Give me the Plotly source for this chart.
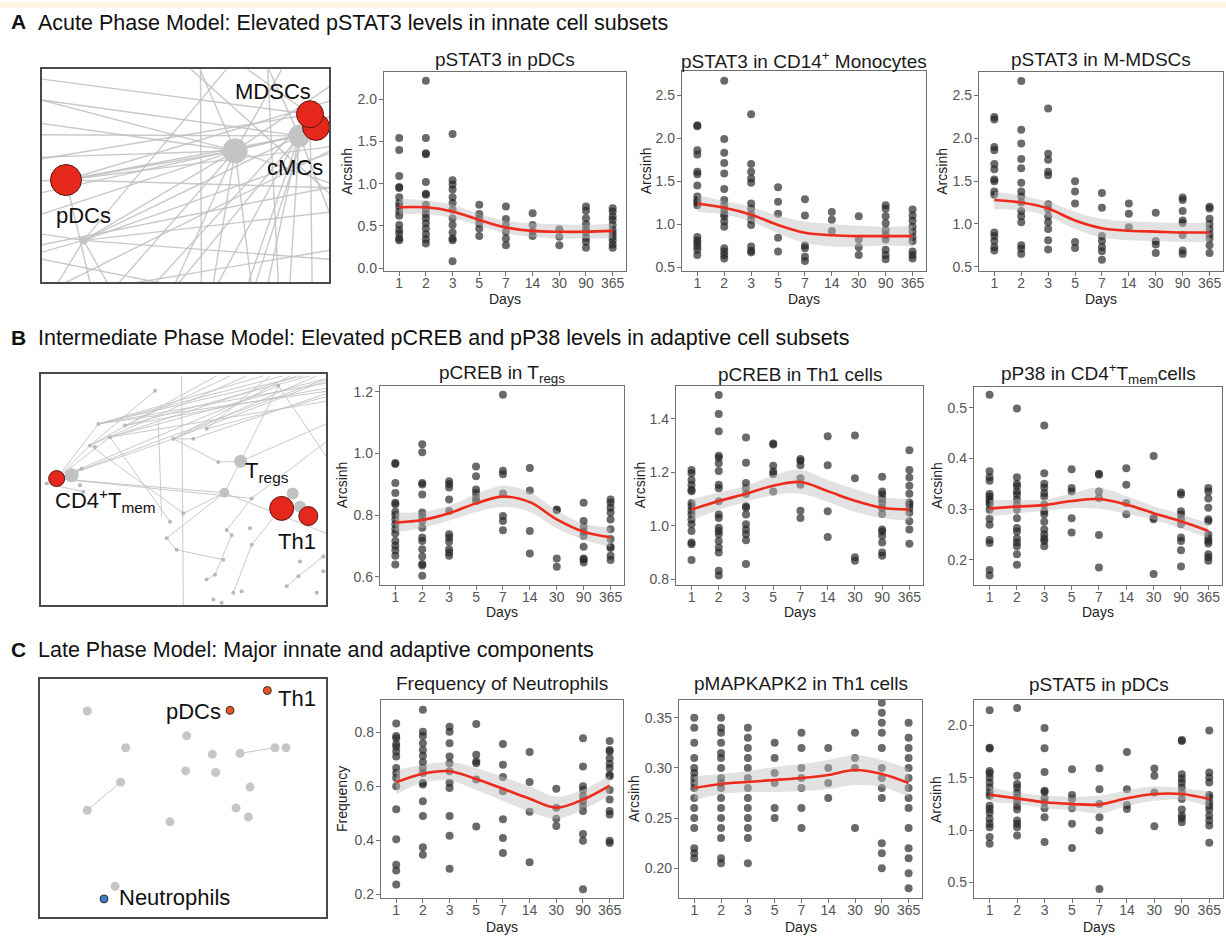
import plotly.graph_objects as go

W, H = 1226, 939
DAYS = ["1", "2", "3", "5", "7", "14", "30", "90", "365"]

# ---------------- Row A data ----------------
A1_PTS = [
    [1.54, 1.40, 1.09, 0.96, 0.95, 0.84, 0.77, 0.73, 0.67, 0.62, 0.51, 0.45, 0.41, 0.35, 0.33],
    [2.22, 1.54, 1.36, 1.35, 1.02, 0.88, 0.87, 0.75, 0.69, 0.64, 0.59, 0.53, 0.47, 0.40, 0.34, 0.29],
    [1.59, 1.04, 0.99, 0.93, 0.84, 0.77, 0.69, 0.59, 0.51, 0.42, 0.35, 0.33, 0.08],
    [0.75, 0.64, 0.59, 0.53, 0.47, 0.38],
    [0.73, 0.58, 0.51, 0.43, 0.35, 0.27],
    [0.65, 0.51, 0.43, 0.38],
    [0.46, 0.37, 0.27],
    [0.73, 0.68, 0.59, 0.52, 0.46, 0.42, 0.36, 0.31, 0.24],
    [0.71, 0.67, 0.61, 0.57, 0.51, 0.45, 0.41, 0.37, 0.33, 0.28, 0.24],
]
A1_FIT = [0.72, 0.72, 0.67, 0.57, 0.48, 0.44, 0.43, 0.43, 0.44]
A1_HI = [0.82, 0.80, 0.75, 0.64, 0.56, 0.53, 0.52, 0.51, 0.53]
A1_LO = [0.63, 0.64, 0.59, 0.50, 0.41, 0.37, 0.35, 0.35, 0.35]

A2_PTS = [
    [2.15, 2.14, 1.86, 1.81, 1.61, 1.58, 1.45, 1.32, 1.28, 1.25, 1.22, 0.85, 0.81, 0.78, 0.74, 0.70, 0.64],
    [2.67, 1.99, 1.83, 1.71, 1.59, 1.41, 1.28, 1.22, 1.17, 1.12, 1.09, 1.03, 0.97, 0.72, 0.68, 0.64, 0.60],
    [2.28, 1.70, 1.61, 1.53, 1.48, 1.24, 1.18, 1.11, 1.05, 0.99, 0.74, 0.69, 0.67],
    [1.43, 1.26, 1.12, 0.84, 0.68],
    [1.29, 1.10, 0.75, 0.72, 0.62, 0.57],
    [1.14, 1.05, 0.92],
    [1.09, 0.82, 0.73, 0.64],
    [1.22, 1.18, 1.09, 1.01, 0.93, 0.87, 0.82, 0.70, 0.64, 0.59],
    [1.17, 1.10, 1.04, 0.97, 0.91, 0.85, 0.80, 0.68, 0.64, 0.60],
]
A2_FIT = [1.24, 1.19, 1.11, 0.99, 0.90, 0.87, 0.86, 0.86, 0.86]
A2_HI = [1.34, 1.27, 1.20, 1.10, 1.03, 1.00, 0.98, 0.97, 0.98]
A2_LO = [1.14, 1.11, 1.03, 0.89, 0.78, 0.74, 0.74, 0.75, 0.74]

A3_PTS = [
    [2.25, 2.22, 1.90, 1.86, 1.70, 1.64, 1.52, 1.50, 1.38, 1.34, 0.90, 0.86, 0.80, 0.73, 0.69],
    [2.67, 2.10, 1.94, 1.76, 1.65, 1.48, 1.38, 1.32, 1.25, 1.15, 1.09, 1.02, 0.75, 0.71, 0.65],
    [2.35, 1.82, 1.75, 1.61, 1.57, 1.23, 1.17, 1.09, 1.02, 0.94, 0.81, 0.70],
    [1.50, 1.38, 1.24, 0.79, 0.72],
    [1.36, 1.19, 0.86, 0.80, 0.73, 0.68, 0.58],
    [1.24, 1.12, 0.96],
    [1.13, 0.80, 0.76, 0.66],
    [1.31, 1.28, 1.15, 1.04, 1.01, 0.87, 0.69, 0.65],
    [1.20, 1.18, 1.06, 1.00, 0.94, 0.88, 0.83, 0.75, 0.66],
]
A3_FIT = [1.28, 1.25, 1.18, 1.04, 0.95, 0.92, 0.91, 0.90, 0.90]
A3_HI = [1.38, 1.33, 1.26, 1.14, 1.06, 1.03, 1.02, 1.01, 1.02]
A3_LO = [1.17, 1.16, 1.09, 0.94, 0.84, 0.81, 0.80, 0.79, 0.79]

# ---------------- Row B data ----------------
B1_PTS = [
    [0.969, 0.966, 0.904, 0.872, 0.840, 0.835, 0.811, 0.800, 0.786, 0.770, 0.754, 0.740, 0.716, 0.700, 0.686, 0.668, 0.639],
    [1.030, 1.004, 0.904, 0.899, 0.867, 0.808, 0.797, 0.781, 0.759, 0.727, 0.716, 0.689, 0.665, 0.641, 0.636, 0.603],
    [0.910, 0.901, 0.890, 0.851, 0.813, 0.738, 0.727, 0.713, 0.689, 0.678, 0.668],
    [0.958, 0.926, 0.883, 0.872, 0.856, 0.845],
    [1.191, 0.944, 0.933, 0.870, 0.797, 0.781, 0.751],
    [0.953, 0.880, 0.748, 0.675],
    [0.818, 0.816, 0.659, 0.632],
    [0.840, 0.781, 0.761, 0.746, 0.732, 0.697, 0.659, 0.656, 0.646],
    [0.851, 0.840, 0.824, 0.808, 0.786, 0.754, 0.722, 0.697, 0.693, 0.668, 0.654],
]
B1_FIT = [0.776, 0.784, 0.806, 0.838, 0.860, 0.842, 0.786, 0.746, 0.728]
B1_HI = [0.808, 0.810, 0.830, 0.868, 0.895, 0.875, 0.815, 0.772, 0.760]
B1_LO = [0.745, 0.758, 0.782, 0.810, 0.826, 0.810, 0.757, 0.720, 0.696]

B2_PTS = [
    [1.209, 1.197, 1.172, 1.154, 1.135, 1.130, 1.086, 1.074, 1.057, 1.043, 1.024, 1.006, 0.981, 0.938, 0.932, 0.873],
    [1.489, 1.418, 1.354, 1.262, 1.255, 1.234, 1.205, 1.154, 1.141, 1.092, 1.043, 1.030, 0.993, 0.981, 0.969, 0.944, 0.920, 0.901, 0.833, 0.815],
    [1.330, 1.236, 1.160, 1.141, 1.119, 1.074, 1.068, 1.043, 1.006, 0.987, 0.969, 0.947, 0.858],
    [1.308, 1.304, 1.225, 1.203, 1.194, 1.129],
    [1.250, 1.243, 1.227, 1.178, 1.154, 1.057, 1.030],
    [1.335, 1.227, 1.055, 0.959],
    [1.338, 1.178, 0.883, 0.870],
    [1.184, 1.129, 1.117, 1.102, 1.086, 1.067, 1.045, 0.987, 0.979, 0.963, 0.938, 0.901, 0.889],
    [1.283, 1.209, 1.181, 1.150, 1.120, 1.088, 1.080, 1.067, 1.049, 1.018, 0.987, 0.934],
]
B2_FIT = [1.061, 1.093, 1.120, 1.150, 1.164, 1.130, 1.094, 1.068, 1.061]
B2_HI = [1.100, 1.125, 1.150, 1.188, 1.210, 1.172, 1.138, 1.108, 1.100]
B2_LO = [1.022, 1.060, 1.090, 1.115, 1.120, 1.090, 1.052, 1.030, 1.020]

B3_PTS = [
    [0.526, 0.375, 0.363, 0.356, 0.330, 0.325, 0.319, 0.314, 0.309, 0.299, 0.281, 0.269, 0.239, 0.233, 0.180, 0.169],
    [0.499, 0.363, 0.350, 0.345, 0.335, 0.329, 0.319, 0.309, 0.299, 0.282, 0.263, 0.256, 0.242, 0.234, 0.227, 0.211, 0.190],
    [0.465, 0.371, 0.350, 0.343, 0.332, 0.325, 0.309, 0.296, 0.290, 0.275, 0.260, 0.250, 0.242, 0.237, 0.227],
    [0.379, 0.342, 0.335, 0.282, 0.254],
    [0.370, 0.368, 0.335, 0.322, 0.249, 0.185],
    [0.381, 0.348, 0.312, 0.290],
    [0.405, 0.283, 0.280, 0.172],
    [0.333, 0.329, 0.296, 0.290, 0.281, 0.270, 0.244, 0.237, 0.219, 0.187],
    [0.342, 0.335, 0.321, 0.303, 0.280, 0.276, 0.250, 0.242, 0.237, 0.232, 0.211, 0.205, 0.198],
]
B3_FIT = [0.301, 0.305, 0.308, 0.316, 0.320, 0.309, 0.292, 0.276, 0.257]
B3_HI = [0.318, 0.318, 0.319, 0.331, 0.342, 0.326, 0.306, 0.290, 0.272]
B3_LO = [0.285, 0.292, 0.297, 0.302, 0.301, 0.291, 0.279, 0.262, 0.243]

# ---------------- Row C data ----------------
C1_PTS = [
    [0.833, 0.787, 0.778, 0.757, 0.747, 0.729, 0.711, 0.668, 0.649, 0.631, 0.600, 0.515, 0.404, 0.309, 0.288, 0.236],
    [0.884, 0.802, 0.787, 0.760, 0.735, 0.713, 0.689, 0.668, 0.649, 0.613, 0.607, 0.545, 0.490, 0.374, 0.346],
    [0.821, 0.802, 0.760, 0.711, 0.686, 0.656, 0.613, 0.594, 0.490, 0.417, 0.294],
    [0.831, 0.717, 0.692, 0.686, 0.625, 0.451],
    [0.757, 0.680, 0.635, 0.582, 0.478, 0.408, 0.353],
    [0.727, 0.616, 0.506, 0.319],
    [0.591, 0.521, 0.480, 0.453],
    [0.778, 0.674, 0.600, 0.586, 0.564, 0.545, 0.527, 0.509, 0.423, 0.398, 0.218],
    [0.768, 0.735, 0.729, 0.704, 0.684, 0.668, 0.643, 0.637, 0.586, 0.551, 0.509, 0.496, 0.398, 0.390],
]
C1_FIT = [0.615, 0.647, 0.656, 0.627, 0.591, 0.554, 0.521, 0.551, 0.603]
C1_HI = [0.660, 0.680, 0.690, 0.668, 0.635, 0.600, 0.562, 0.588, 0.640]
C1_LO = [0.570, 0.614, 0.622, 0.586, 0.546, 0.506, 0.480, 0.514, 0.566]

C2_PTS = [
    [0.350, 0.340, 0.325, 0.310, 0.300, 0.295, 0.290, 0.285, 0.280, 0.270, 0.260, 0.250, 0.240, 0.220, 0.215, 0.210],
    [0.350, 0.340, 0.335, 0.325, 0.315, 0.310, 0.300, 0.290, 0.285, 0.280, 0.270, 0.260, 0.250, 0.240, 0.230, 0.210, 0.205],
    [0.340, 0.330, 0.320, 0.310, 0.300, 0.290, 0.280, 0.270, 0.260, 0.250, 0.240, 0.230, 0.205],
    [0.325, 0.310, 0.295, 0.285, 0.260, 0.250],
    [0.335, 0.320, 0.300, 0.290, 0.280, 0.260, 0.240],
    [0.320, 0.300, 0.285, 0.270],
    [0.335, 0.310, 0.300, 0.240],
    [0.365, 0.355, 0.345, 0.335, 0.320, 0.300, 0.290, 0.280, 0.270, 0.225, 0.215, 0.200],
    [0.345, 0.330, 0.320, 0.310, 0.300, 0.290, 0.280, 0.270, 0.260, 0.240, 0.220, 0.210, 0.195, 0.180],
]
C2_FIT = [0.280, 0.284, 0.286, 0.288, 0.290, 0.293, 0.298, 0.294, 0.285]
C2_HI = [0.292, 0.294, 0.297, 0.301, 0.304, 0.308, 0.313, 0.308, 0.299]
C2_LO = [0.268, 0.274, 0.276, 0.276, 0.277, 0.279, 0.283, 0.281, 0.271]

C3_PTS = [
    [2.146, 1.788, 1.780, 1.566, 1.544, 1.503, 1.456, 1.408, 1.361, 1.329, 1.234, 1.203, 1.165, 1.108, 1.060, 1.028, 0.934, 0.870],
    [2.168, 1.519, 1.440, 1.408, 1.361, 1.320, 1.282, 1.234, 1.196, 1.092, 1.060, 1.028, 0.949],
    [1.978, 1.782, 1.557, 1.377, 1.365, 1.304, 1.266, 1.209, 1.123, 0.886],
    [1.582, 1.335, 1.297, 1.209, 1.060, 0.829],
    [1.592, 1.392, 1.250, 1.123, 0.997, 0.437],
    [1.747, 1.392, 1.241, 1.203],
    [1.589, 1.519, 1.361, 1.038],
    [1.861, 1.852, 1.535, 1.494, 1.456, 1.408, 1.361, 1.297, 1.196, 1.139, 1.114, 1.076],
    [1.953, 1.551, 1.503, 1.456, 1.335, 1.313, 1.266, 1.234, 1.196, 1.139, 1.092, 1.044, 0.880],
]
C3_FIT = [1.339, 1.304, 1.266, 1.250, 1.244, 1.304, 1.345, 1.345, 1.297]
C3_HI = [1.410, 1.360, 1.330, 1.320, 1.330, 1.380, 1.420, 1.400, 1.370]
C3_LO = [1.270, 1.250, 1.210, 1.190, 1.160, 1.230, 1.280, 1.290, 1.220]

# ---------------- Network layouts (layout coordinates) ----------------
NA_RED = [(858, 228, 27), (840, 190, 27), (107, 388, 31)]
NA_GRAY = [(615, 300, 25), (808, 255, 22), (160, 570, 8)]
NA_EDGES = [
    (615, 300, -300, 60), (615, 300, -300, 170), (615, 300, -300, 330), (615, 300, 107, 388),
    (615, 300, -300, 600), (615, 300, 160, 570), (615, 300, 0, 1000), (615, 300, 300, 1000),
    (615, 300, 500, 1000), (615, 300, 700, 1000), (615, 300, 1200, -100), (615, 300, 1200, 150),
    (615, 300, 1200, 500), (615, 300, 900, -200), (615, 300, 400, -200),
    (808, 255, -300, 100), (808, 255, -300, 250), (808, 255, -300, 500), (808, 255, 160, 570),
    (808, 255, 200, 1000), (808, 255, 550, 1000), (808, 255, 650, 1000), (808, 255, 760, 1000),
    (808, 255, 1100, 1000), (808, 255, 1200, 0), (808, 255, 600, -200), (808, 255, 107, 388),
    (840, 190, -300, 40), (840, 190, -300, 380), (840, 190, 100, 1000), (840, 190, 400, 1000),
    (840, 190, 580, 1000), (840, 190, 850, 1000), (840, 190, 300, -200),
    (107, 388, 1200, 250), (107, 388, 1200, 420), (107, 388, -300, 400), (107, 388, 250, 1000),
    (107, 388, 1200, 60),
    (160, 570, 1200, 200), (160, 570, 1200, 450), (160, 570, 1200, 650), (160, 570, -300, 700),
    (160, 570, -300, 500), (160, 570, 400, 1000), (160, 570, 800, -200), (160, 570, -100, 1000),
    (510, -200, 515, 1000), (-300, 650, 1200, 350), (-300, 800, 1200, 550), (200, -200, 1200, 700),
    (-300, 900, 1200, 150), (700, -200, 760, 1000), (-300, 560, 1200, 860),
]
NA_LABELS = [("MDSCs", 730, 120, "center"), ("cMCs", 795, 350, "center"), ("pDCs", 160, 495, "center")]

NB_RED = [(80, 450, 16), (755, 540, 24), (835, 563, 19)]
NB_GRAY = [(125, 440, 14), (632, 398, 13), (583, 493, 10), (788, 495, 12), (810, 535, 12)]
NB_SMALL = [
    (375, 185), (205, 285), (180, 350), (195, 355), (240, 325), (285, 290), (430, 330), (490, 330),
    (530, 300), (565, 400), (665, 510), (460, 555), (420, 580), (410, 630), (440, 665), (590, 605),
    (605, 620), (660, 600), (665, 650), (580, 695), (555, 740), (530, 755), (610, 795), (635, 790),
    (770, 775), (805, 745), (810, 700), (880, 685), (860, 795), (550, 815), (575, 825), (880, 730),
    (160, 490), (50, 465), (155, 420), (745, 170), (150, 470),
]
NB_EDGES = [
    (80, 450, 205, 285), (80, 450, 180, 350), (80, 450, 240, 325), (80, 450, 430, 330),
    (80, 450, 745, 170), (80, 450, 900, 145), (80, 450, 583, 493), (80, 450, 665, 510),
    (205, 285, 900, 160), (205, 285, 820, 140), (205, 285, 700, 140), (285, 290, 900, 175),
    (285, 290, 600, 140), (430, 330, 900, 150), (430, 330, 860, 140), (530, 300, 900, 200),
    (490, 330, 900, 190), (180, 350, 560, 140), (180, 350, 375, 185), (240, 325, 800, 140),
    (430, 330, 565, 400), (565, 400, 632, 398), (430, 330, 490, 330), (632, 398, 900, 280),
    (632, 398, 583, 493), (745, 170, 900, 400), (745, 170, 632, 398), (583, 493, 460, 555),
    (583, 493, 410, 630), (410, 630, 440, 665), (440, 665, 580, 695), (665, 510, 590, 605),
    (590, 605, 605, 620), (605, 620, 555, 740), (555, 740, 530, 755), (788, 495, 665, 650),
    (665, 650, 610, 795), (880, 685, 805, 745), (805, 745, 770, 775), (240, 325, 420, 580),
    (455, 140, 460, 840), (385, 280, 395, 565), (583, 493, 900, 620), (665, 510, 900, 330),
    (160, 490, 50, 465), (155, 420, 80, 450), (180, 350, 460, 555),
    (205, 285, 760, 140), (240, 325, 880, 150), (285, 290, 840, 140), (180, 350, 650, 140),
    (205, 285, 900, 185), (430, 330, 780, 140), (240, 325, 900, 215), (530, 300, 720, 140),
]
NB_LABELS = [
    ("CD4<sup>+</sup>T<sub>mem</sub>", 68, 515, "left"),
    ("T<sub>regs</sub>", 638, 430, "left"),
    ("Th1", 800, 640, "center"),
]

NC_GRAY = [
    (172, 282), (470, 357), (287, 393), (547, 413), (630, 410), (735, 393), (768, 393), (467, 463),
    (557, 468), (272, 497), (660, 512), (172, 582), (618, 575), (655, 602), (420, 617), (255, 812),
]
NC_EDGES = [(172, 582, 272, 497), (630, 410, 735, 393)]
NC_COLORED = [(712, 220, "#e8531f"), (600, 280, "#e8531f"), (222, 850, "#3d7cc0")]
NC_LABELS = [("Th1", 738, 243, "left"), ("pDCs", 578, 283, "right"), ("Neutrophils", 262, 845, "left")]

# ---------------- figure ----------------
FONT = "Liberation Sans, Arial, Helvetica, sans-serif"
FRAME = "#707070"
fig = go.Figure()
layout = {}
annotations = []


def dx(l, r):
    return [l / W, r / W]


def dy(t, b):
    return [1 - b / H, 1 - t / H]


def px(x):
    return x / W


def py(y):
    return 1 - y / H


def add_network(i, box, xr, yr, edges, edge_w, edge_col):
    l, t, r, b = box
    ex, ey = [], []
    for x0, y0, x1, y1 in edges:
        ex += [x0, x1, None]
        ey += [y0, y1, None]
    fig.add_trace(go.Scatter(x=ex, y=ey, mode="lines", line=dict(color=edge_col, width=edge_w),
                             xaxis=f"x{i}", yaxis=f"y{i}", hoverinfo="skip", showlegend=False))
    common = dict(showgrid=False, zeroline=False, showticklabels=False, ticks="", showline=True,
                  mirror=True, linecolor="#4a4a4a", linewidth=1.6, fixedrange=True)
    layout[f"xaxis{i}"] = dict(domain=dx(l, r), anchor=f"y{i}", range=xr, **common)
    layout[f"yaxis{i}"] = dict(domain=dy(t, b), anchor=f"x{i}", range=yr, **common)


def add_nodes(i, nodes, color, outline, lw):
    xs = [n[0] for n in nodes]
    ys = [n[1] for n in nodes]
    sz = [n[2] for n in nodes]
    fig.add_trace(go.Scatter(x=xs, y=ys, mode="markers",
                             marker=dict(size=sz, color=color, opacity=1,
                                         line=dict(color=outline, width=lw)),
                             xaxis=f"x{i}", yaxis=f"y{i}", hoverinfo="skip", showlegend=False))


def add_labels(i, labels, size):
    for txt, x, y, anc in labels:
        annotations.append(dict(text=txt, x=x, y=y, xref=f"x{i}", yref=f"y{i}", xanchor=anc,
                                yanchor="middle", showarrow=False,
                                font=dict(family=FONT, size=size, color="#111")))


# Network A
add_network(1, (42, 68, 329, 282), [35, 897], [695, 55], NA_EDGES, 1.4, "rgba(192,192,192,0.85)")
add_nodes(1, NA_GRAY, "#c4c4c4", "#c4c4c4", 0)
add_nodes(1, NA_RED, "#e5281b", "#5a1a12", 1)
add_labels(1, NA_LABELS, 22)

# Network B
add_network(5, (41, 375, 326, 608), [33, 888], [833, 135], NB_EDGES, 1.0, "rgba(195,195,195,0.9)")
add_nodes(5, [(x, y, 4) for x, y in NB_SMALL], "#b8b8b8", "#b8b8b8", 0)
add_nodes(5, NB_GRAY, "#c2c2c2", "#c2c2c2", 0)
add_nodes(5, NB_RED, "#e5281b", "#5a1a12", 1)
add_labels(5, NB_LABELS, 22)

# Network C
add_network(9, (40, 682, 326, 922), [30, 888], [905, 185], NC_EDGES, 1.0, "rgba(190,190,190,0.9)")
add_nodes(9, [(x, y, 9) for x, y in NC_GRAY], "#c6c6c6", "#c6c6c6", 0)
fig.add_trace(go.Scatter(x=[n[0] for n in NC_COLORED], y=[n[1] for n in NC_COLORED], mode="markers",
                         marker=dict(size=8, color=[n[2] for n in NC_COLORED], opacity=1,
                                     line=dict(color="#333", width=1)),
                         xaxis="x9", yaxis="y9", hoverinfo="skip", showlegend=False))
add_labels(9, NC_LABELS, 22)

PANELS = [
    (2, A1_PTS, A1_FIT, A1_LO, A1_HI, (384, 71, 626, 271), [-0.035, 2.318], [0, 0.5, 1, 1.5, 2],
     ["0.0", "0.5", "1.0", "1.5", "2.0"], "pSTAT3 in pDCs", 58, "Arcsinh", 347, 299),
    (3, A2_PTS, A2_FIT, A2_LO, A2_HI, (682, 70, 926, 271), [0.454, 2.777], [0.5, 1, 1.5, 2, 2.5],
     ["0.5", "1.0", "1.5", "2.0", "2.5"], "pSTAT3 in CD14<sup>+</sup> Monocytes", 58, "Arcsinh", 646, 299),
    (4, A3_PTS, A3_FIT, A3_LO, A3_HI, (979, 71, 1223, 271), [0.45, 2.77], [0.5, 1, 1.5, 2, 2.5],
     ["0.5", "1.0", "1.5", "2.0", "2.5"], "pSTAT3 in M-MDSCs", 58, "Arcsinh", 942, 299),
    (6, B1_PTS, B1_FIT, B1_LO, B1_HI, (380, 387, 624, 587), [0.574, 1.219], [0.6, 0.8, 1.0, 1.2],
     ["0.6", "0.8", "1.0", "1.2"], "pCREB in T<sub>regs</sub>", 375, "Arcsinh", 342, 615),
    (7, B2_PTS, B2_FIT, B2_LO, B2_HI, (676, 387, 923, 587), [0.781, 1.522], [0.8, 1.0, 1.2, 1.4],
     ["0.8", "1.0", "1.2", "1.4"], "pCREB in Th1 cells", 375, "Arcsinh", 640, 615),
    (8, B3_PTS, B3_FIT, B3_LO, B3_HI, (974, 388, 1222, 587), [0.151, 0.541], [0.2, 0.3, 0.4, 0.5],
     ["0.2", "0.3", "0.4", "0.5"], "pP38 in CD4<sup>+</sup>T<sub>mem</sub>cells", 374, "Arcsinh", 937, 615),
    (10, C1_PTS, C1_FIT, C1_LO, C1_HI, (381, 703, 623, 903), [0.185, 0.921], [0.2, 0.4, 0.6, 0.8],
     ["0.2", "0.4", "0.6", "0.8"], "Frequency of Neutrophils", 687, "Frequency", 342, 932),
    (11, C2_PTS, C2_FIT, C2_LO, C2_HI, (679, 703, 922, 903), [0.17, 0.368], [0.2, 0.25, 0.3, 0.35],
     ["0.20", "0.25", "0.30", "0.35"], "pMAPKAPK2 in Th1 cells", 687, "Arcsinh", 634, 932),
    (12, C3_PTS, C3_FIT, C3_LO, C3_HI, (974, 703, 1223, 903), [0.348, 2.247], [0.5, 1.0, 1.5, 2.0],
     ["0.5", "1.0", "1.5", "2.0"], "pSTAT5 in pDCs", 688, "Arcsinh", 936, 932),
]

for (i, pts, fit, lo, hi, box, yr, tv, tt, title, ty, ytitle, ytx, dyy) in PANELS:
    l, t, r, b = box
    xs, ys = [], []
    for d, vals in zip(DAYS, pts):
        xs += [d] * len(vals)
        ys += vals
    xa, ya = f"x{i}", f"y{i}"
    fig.add_trace(go.Scatter(x=xs, y=ys, mode="markers",
                             marker=dict(size=8, color="rgba(35,35,35,0.68)", line=dict(width=0)),
                             xaxis=xa, yaxis=ya, hoverinfo="skip", showlegend=False))
    fig.add_trace(go.Scatter(x=DAYS, y=hi, mode="lines", line=dict(width=0, shape="spline"),
                             xaxis=xa, yaxis=ya, hoverinfo="skip", showlegend=False))
    fig.add_trace(go.Scatter(x=DAYS, y=lo, mode="lines", line=dict(width=0, shape="spline"),
                             fill="tonexty", fillcolor="rgba(190,190,190,0.45)",
                             xaxis=xa, yaxis=ya, hoverinfo="skip", showlegend=False))
    fig.add_trace(go.Scatter(x=DAYS, y=fit, mode="lines", line=dict(color="#ee2a1b", width=2.6, shape="spline"),
                             xaxis=xa, yaxis=ya, hoverinfo="skip", showlegend=False))
    layout[f"xaxis{i}"] = dict(domain=dx(l, r), anchor=ya, type="category", categoryorder="array",
                               categoryarray=DAYS, range=[-0.57, 8.5], showgrid=False, zeroline=False,
                               showline=True, mirror=True, linecolor=FRAME, linewidth=1.4,
                               ticks="outside", ticklen=4, tickwidth=1, tickcolor=FRAME,
                               ticklabelstandoff=-5,
                               tickfont=dict(family=FONT, size=14, color="#555"), fixedrange=True)
    layout[f"yaxis{i}"] = dict(domain=dy(t, b), anchor=xa, range=yr, tickvals=tv, ticktext=tt,
                               showgrid=False, zeroline=False, showline=True, mirror=True,
                               linecolor=FRAME, linewidth=1.4, ticks="outside", ticklen=4, tickwidth=1,
                               tickcolor=FRAME, tickfont=dict(family=FONT, size=14, color="#555"),
                               ticklabelstandoff=-1, fixedrange=True)
    annotations.append(dict(text=title, x=px((l + r) / 2), y=py(ty), xref="paper", yref="paper",
                            xanchor="center", yanchor="middle", showarrow=False,
                            font=dict(family=FONT, size=19, color="#1a1a1a")))
    annotations.append(dict(text=ytitle, x=px(ytx), y=py((t + b) / 2), xref="paper", yref="paper",
                            xanchor="center", yanchor="middle", textangle=-90, showarrow=False,
                            font=dict(family=FONT, size=14, color="#222")))
    annotations.append(dict(text="Days", x=px((l + r) / 2), y=py(dyy), xref="paper", yref="paper",
                            xanchor="center", yanchor="middle", showarrow=False,
                            font=dict(family=FONT, size=14, color="#222")))

ROWS = [
    ("A", "Acute Phase Model: Elevated pSTAT3 levels in innate cell subsets", 20),
    ("B", "Intermediate Phase Model: Elevated pCREB and pP38 levels in adaptive cell subsets", 338),
    ("C", "Late Phase Model: Major innate and adaptive components", 652),
]
for letter, text, y in ROWS:
    annotations.append(dict(text=f"<b>{letter}</b>", x=px(9), y=py(y), xref="paper", yref="paper",
                            xanchor="left", yanchor="middle", showarrow=False,
                            font=dict(family=FONT, size=21, color="#111")))
    annotations.append(dict(text=text, x=px(36), y=py(y + 1), xref="paper", yref="paper",
                            xanchor="left", yanchor="middle", showarrow=False,
                            font=dict(family=FONT, size=21.5, color="#111")))

layout["annotations"] = annotations
layout["shapes"] = [dict(type="rect", xref="paper", yref="paper", x0=0, x1=1, y0=py(6), y1=1,
                         fillcolor="#fdf6e3", line=dict(width=0), layer="below")]
fig.update_layout(**layout)
fig.update_layout(width=W, height=H, margin=dict(l=0, r=0, t=0, b=0), paper_bgcolor="white",
                  plot_bgcolor="white", showlegend=False, font=dict(family=FONT))
fig.write_html("out.html")
